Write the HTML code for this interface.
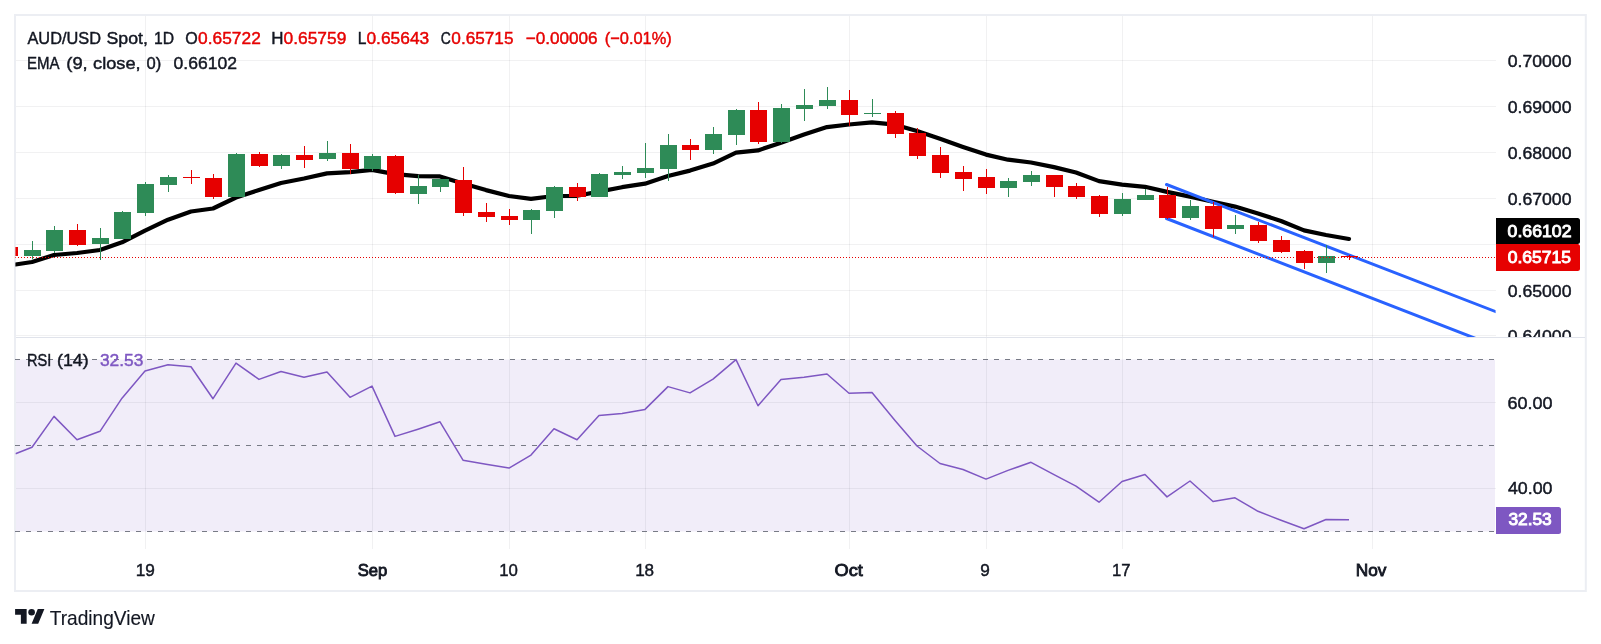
<!DOCTYPE html>
<html><head><meta charset="utf-8"><title>AUD/USD</title>
<style>html,body{margin:0;padding:0;background:#fff;}body{width:1601px;height:644px;overflow:hidden;}svg{display:block;}text{font-family:"Liberation Sans",sans-serif;}</style></head><body>
<svg width="1601" height="644" viewBox="0 0 1601 644">
<rect x="0" y="0" width="1601" height="644" fill="#fff"/>
<defs><clipPath id="cm"><rect x="15.4" y="16" width="1480.2" height="321"/></clipPath><clipPath id="cr"><rect x="15.4" y="338" width="1480.2" height="211"/></clipPath><clipPath id="ca"><rect x="1496" y="16" width="89" height="321"/></clipPath></defs>
<rect x="15" y="15" width="1570.8" height="576" fill="none" stroke="#eceef3" stroke-width="2"/>
<rect x="16" y="359.5" width="1479" height="172" fill="#f1edf9"/>
<rect x="145.0" y="16" width="1" height="533" fill="#131722" fill-opacity="0.06"/>
<rect x="372.0" y="16" width="1" height="533" fill="#131722" fill-opacity="0.06"/>
<rect x="509.0" y="16" width="1" height="533" fill="#131722" fill-opacity="0.06"/>
<rect x="645.0" y="16" width="1" height="533" fill="#131722" fill-opacity="0.06"/>
<rect x="849.0" y="16" width="1" height="533" fill="#131722" fill-opacity="0.06"/>
<rect x="986.0" y="16" width="1" height="533" fill="#131722" fill-opacity="0.06"/>
<rect x="1122.0" y="16" width="1" height="533" fill="#131722" fill-opacity="0.06"/>
<rect x="1372.0" y="16" width="1" height="533" fill="#131722" fill-opacity="0.06"/>
<rect x="16" y="60" width="1480" height="1" fill="#131722" fill-opacity="0.06"/>
<rect x="16" y="106" width="1480" height="1" fill="#131722" fill-opacity="0.06"/>
<rect x="16" y="152" width="1480" height="1" fill="#131722" fill-opacity="0.06"/>
<rect x="16" y="198" width="1480" height="1" fill="#131722" fill-opacity="0.06"/>
<rect x="16" y="244" width="1480" height="1" fill="#131722" fill-opacity="0.06"/>
<rect x="16" y="290" width="1480" height="1" fill="#131722" fill-opacity="0.06"/>
<rect x="16" y="335" width="1480" height="1" fill="#131722" fill-opacity="0.06"/>
<rect x="16" y="402" width="1480" height="1" fill="#131722" fill-opacity="0.06"/>
<rect x="16" y="488" width="1480" height="1" fill="#131722" fill-opacity="0.06"/>
<rect x="16" y="337" width="1569" height="1" fill="#e0e3eb"/>
<line x1="15" y1="359.5" x2="1496" y2="359.5" stroke="#787b86" stroke-width="1" stroke-dasharray="5 6"/>
<line x1="15" y1="445.5" x2="1496" y2="445.5" stroke="#787b86" stroke-width="1" stroke-dasharray="5 6"/>
<line x1="15" y1="531.5" x2="1496" y2="531.5" stroke="#787b86" stroke-width="1" stroke-dasharray="5 6"/>
<g clip-path="url(#cr)"><polyline points="15.5,453.7 32.0,447.2 54.0,416.4 77.0,439.7 100.0,431.3 122.0,398.2 145.0,371.0 168.0,364.7 191.0,366.8 213.0,398.7 236.0,363.1 259.0,379.4 281.0,371.5 304.0,377.3 327.0,372.1 350.0,397.3 372.0,386.1 395.0,436.4 418.0,429.2 440.0,421.8 463.0,460.2 486.0,464.2 509.0,468.1 531.0,455.1 554.0,428.7 577.0,439.7 599.0,415.5 622.0,413.6 645.0,409.4 668.0,386.6 690.0,392.9 713.0,379.1 736.0,359.6 758.0,405.7 781.0,379.6 804.0,377.3 827.0,374.0 849.0,393.3 872.0,392.6 895.0,420.4 917.0,446.0 940.0,463.5 963.0,469.5 986.0,479.1 1008.0,470.4 1031.0,462.3 1054.0,474.6 1076.0,486.1 1099.0,502.2 1122.0,481.5 1145.0,474.5 1167.0,496.9 1190.0,481.0 1213.0,501.5 1235.0,497.8 1258.0,511.3 1281.0,520.2 1304.0,528.8 1326.0,519.5 1349.0,519.7" fill="none" stroke="#7e57c2" stroke-width="1.5" stroke-linejoin="round"/></g>
<g clip-path="url(#cm)">
<polyline points="15.5,264.5 32.0,262.0 54.0,255.0 77.0,253.0 100.0,250.0 122.0,242.3 145.0,230.6 168.0,219.7 191.0,211.5 213.0,208.5 236.0,197.5 259.0,190.0 281.0,183.0 304.0,178.5 327.0,173.4 350.0,172.2 372.0,169.9 395.0,174.1 418.0,176.2 440.0,176.4 463.0,183.4 486.0,190.1 509.0,196.0 531.0,198.8 554.0,196.0 577.0,195.8 599.0,191.6 622.0,187.2 645.0,183.7 668.0,176.0 690.0,170.6 713.0,163.6 736.0,152.7 758.0,150.4 781.0,142.7 804.0,134.5 827.0,127.1 849.0,124.5 872.0,122.4 895.0,124.7 917.0,131.0 940.0,138.7 963.0,146.9 986.0,154.6 1008.0,159.7 1031.0,162.5 1054.0,167.1 1076.0,172.5 1099.0,181.1 1122.0,184.6 1145.0,186.8 1167.0,191.9 1190.0,196.6 1213.0,201.7 1235.0,206.6 1258.0,213.4 1281.0,221.0 1304.0,230.4 1326.0,235.0 1349.0,239.0" fill="none" stroke="#000" stroke-width="4.2" stroke-linejoin="round" stroke-linecap="round"/>
<line x1="1166.5" y1="184.5" x2="1500" y2="313.3" stroke="#2962ff" stroke-width="3" stroke-linecap="round"/>
<line x1="1166.5" y1="218.5" x2="1500" y2="347.9" stroke="#2962ff" stroke-width="3" stroke-linecap="round"/>
<rect x="9" y="244" width="1" height="13" fill="#e60000"/><rect x="1" y="247" width="17" height="9" fill="#e60000"/>
<rect x="32" y="241" width="1" height="18" fill="#2e8b57"/><rect x="24" y="250" width="17" height="6" fill="#2e8b57"/>
<rect x="54" y="226" width="1" height="27" fill="#2e8b57"/><rect x="46" y="230" width="17" height="21" fill="#2e8b57"/>
<rect x="77" y="224" width="1" height="22" fill="#e60000"/><rect x="69" y="230" width="17" height="15" fill="#e60000"/>
<rect x="100" y="228" width="1" height="32" fill="#2e8b57"/><rect x="92" y="238" width="17" height="6" fill="#2e8b57"/>
<rect x="122" y="211" width="1" height="28" fill="#2e8b57"/><rect x="114" y="212" width="17" height="27" fill="#2e8b57"/>
<rect x="145" y="182" width="1" height="34" fill="#2e8b57"/><rect x="137" y="184" width="17" height="29" fill="#2e8b57"/>
<rect x="168" y="175" width="1" height="17" fill="#2e8b57"/><rect x="160" y="177" width="17" height="8" fill="#2e8b57"/>
<rect x="191" y="170" width="1" height="14" fill="#e60000"/><rect x="183" y="177" width="17" height="1" fill="#e60000"/>
<rect x="213" y="174" width="1" height="25" fill="#e60000"/><rect x="205" y="178" width="17" height="19" fill="#e60000"/>
<rect x="236" y="153" width="1" height="44" fill="#2e8b57"/><rect x="228" y="154" width="17" height="43" fill="#2e8b57"/>
<rect x="259" y="152" width="1" height="15" fill="#e60000"/><rect x="251" y="154" width="17" height="12" fill="#e60000"/>
<rect x="281" y="154" width="1" height="15" fill="#2e8b57"/><rect x="273" y="155" width="17" height="11" fill="#2e8b57"/>
<rect x="304" y="146" width="1" height="22" fill="#e60000"/><rect x="296" y="155" width="17" height="5" fill="#e60000"/>
<rect x="327" y="141" width="1" height="20" fill="#2e8b57"/><rect x="319" y="153" width="17" height="6" fill="#2e8b57"/>
<rect x="350" y="144" width="1" height="30" fill="#e60000"/><rect x="342" y="153" width="17" height="16" fill="#e60000"/>
<rect x="372" y="154" width="1" height="17" fill="#2e8b57"/><rect x="364" y="156" width="17" height="13" fill="#2e8b57"/>
<rect x="395" y="155" width="1" height="39" fill="#e60000"/><rect x="387" y="156" width="17" height="37" fill="#e60000"/>
<rect x="418" y="175" width="1" height="29" fill="#2e8b57"/><rect x="410" y="186" width="17" height="8" fill="#2e8b57"/>
<rect x="440" y="179" width="1" height="13" fill="#2e8b57"/><rect x="432" y="179" width="17" height="8" fill="#2e8b57"/>
<rect x="463" y="167" width="1" height="49" fill="#e60000"/><rect x="455" y="180" width="17" height="33" fill="#e60000"/>
<rect x="486" y="203" width="1" height="19" fill="#e60000"/><rect x="478" y="212" width="17" height="5" fill="#e60000"/>
<rect x="509" y="209" width="1" height="16" fill="#e60000"/><rect x="501" y="216" width="17" height="4" fill="#e60000"/>
<rect x="531" y="209" width="1" height="25" fill="#2e8b57"/><rect x="523" y="210" width="17" height="10" fill="#2e8b57"/>
<rect x="554" y="186" width="1" height="32" fill="#2e8b57"/><rect x="546" y="187" width="17" height="24" fill="#2e8b57"/>
<rect x="577" y="183" width="1" height="18" fill="#e60000"/><rect x="569" y="187" width="17" height="10" fill="#e60000"/>
<rect x="599" y="173" width="1" height="24" fill="#2e8b57"/><rect x="591" y="174" width="17" height="23" fill="#2e8b57"/>
<rect x="622" y="166" width="1" height="13" fill="#2e8b57"/><rect x="614" y="172" width="17" height="3" fill="#2e8b57"/>
<rect x="645" y="143" width="1" height="35" fill="#2e8b57"/><rect x="637" y="168" width="17" height="5" fill="#2e8b57"/>
<rect x="668" y="134" width="1" height="47" fill="#2e8b57"/><rect x="660" y="145" width="17" height="24" fill="#2e8b57"/>
<rect x="690" y="139" width="1" height="21" fill="#e60000"/><rect x="682" y="145" width="17" height="5" fill="#e60000"/>
<rect x="713" y="127" width="1" height="27" fill="#2e8b57"/><rect x="705" y="134" width="17" height="16" fill="#2e8b57"/>
<rect x="736" y="109" width="1" height="36" fill="#2e8b57"/><rect x="728" y="110" width="17" height="25" fill="#2e8b57"/>
<rect x="758" y="102" width="1" height="42" fill="#e60000"/><rect x="750" y="110" width="17" height="32" fill="#e60000"/>
<rect x="781" y="104" width="1" height="39" fill="#2e8b57"/><rect x="773" y="108" width="17" height="34" fill="#2e8b57"/>
<rect x="804" y="89" width="1" height="32" fill="#2e8b57"/><rect x="796" y="105" width="17" height="4" fill="#2e8b57"/>
<rect x="827" y="87" width="1" height="22" fill="#2e8b57"/><rect x="819" y="100" width="17" height="6" fill="#2e8b57"/>
<rect x="849" y="90" width="1" height="36" fill="#e60000"/><rect x="841" y="100" width="17" height="15" fill="#e60000"/>
<rect x="872" y="99" width="1" height="18" fill="#2e8b57"/><rect x="864" y="113" width="17" height="1" fill="#2e8b57"/>
<rect x="895" y="111" width="1" height="27" fill="#e60000"/><rect x="887" y="113" width="17" height="21" fill="#e60000"/>
<rect x="917" y="128" width="1" height="31" fill="#e60000"/><rect x="909" y="133" width="17" height="23" fill="#e60000"/>
<rect x="940" y="147" width="1" height="31" fill="#e60000"/><rect x="932" y="155" width="17" height="18" fill="#e60000"/>
<rect x="963" y="166" width="1" height="25" fill="#e60000"/><rect x="955" y="172" width="17" height="7" fill="#e60000"/>
<rect x="986" y="169" width="1" height="25" fill="#e60000"/><rect x="978" y="177" width="17" height="11" fill="#e60000"/>
<rect x="1008" y="178" width="1" height="19" fill="#2e8b57"/><rect x="1000" y="181" width="17" height="7" fill="#2e8b57"/>
<rect x="1031" y="171" width="1" height="15" fill="#2e8b57"/><rect x="1023" y="175" width="17" height="7" fill="#2e8b57"/>
<rect x="1054" y="175" width="1" height="22" fill="#e60000"/><rect x="1046" y="175" width="17" height="12" fill="#e60000"/>
<rect x="1076" y="183" width="1" height="16" fill="#e60000"/><rect x="1068" y="186" width="17" height="11" fill="#e60000"/>
<rect x="1099" y="195" width="1" height="22" fill="#e60000"/><rect x="1091" y="196" width="17" height="18" fill="#e60000"/>
<rect x="1122" y="193" width="1" height="23" fill="#2e8b57"/><rect x="1114" y="199" width="17" height="15" fill="#2e8b57"/>
<rect x="1145" y="189" width="1" height="11" fill="#2e8b57"/><rect x="1137" y="195" width="17" height="5" fill="#2e8b57"/>
<rect x="1167" y="187" width="1" height="32" fill="#e60000"/><rect x="1159" y="195" width="17" height="23" fill="#e60000"/>
<rect x="1190" y="200" width="1" height="20" fill="#2e8b57"/><rect x="1182" y="206" width="17" height="12" fill="#2e8b57"/>
<rect x="1213" y="202" width="1" height="35" fill="#e60000"/><rect x="1205" y="206" width="17" height="23" fill="#e60000"/>
<rect x="1235" y="215" width="1" height="19" fill="#2e8b57"/><rect x="1227" y="225" width="17" height="4" fill="#2e8b57"/>
<rect x="1258" y="222" width="1" height="21" fill="#e60000"/><rect x="1250" y="225" width="17" height="16" fill="#e60000"/>
<rect x="1281" y="236" width="1" height="17" fill="#e60000"/><rect x="1273" y="240" width="17" height="12" fill="#e60000"/>
<rect x="1304" y="250" width="1" height="19" fill="#e60000"/><rect x="1296" y="251" width="17" height="12" fill="#e60000"/>
<rect x="1326" y="245" width="1" height="28" fill="#2e8b57"/><rect x="1318" y="256" width="17" height="7" fill="#2e8b57"/>
<rect x="1349" y="255" width="1" height="5" fill="#e60000"/><rect x="1341" y="256" width="17" height="1" fill="#e60000"/>
<line x1="15" y1="257.5" x2="1496" y2="257.5" stroke="#e60000" stroke-width="1" stroke-dasharray="1 2"/>
</g>
<g style="opacity:0.999">
<text x="27.48" y="43.6" font-size="17.2" fill="#131722" font-weight="normal" stroke="#131722" stroke-width="0.45" textLength="73.48" lengthAdjust="spacingAndGlyphs">AUD/USD</text>
<text x="106.53" y="43.6" font-size="17.2" fill="#131722" font-weight="normal" stroke="#131722" stroke-width="0.45" textLength="41.34" lengthAdjust="spacingAndGlyphs">Spot,</text>
<text x="153.95" y="43.6" font-size="17.2" fill="#131722" font-weight="normal" stroke="#131722" stroke-width="0.45" textLength="20.09" lengthAdjust="spacingAndGlyphs">1D</text>
<text x="185.26" y="43.6" font-size="17.2" fill="#131722" font-weight="normal" stroke="#131722" stroke-width="0.45" textLength="12.48" lengthAdjust="spacingAndGlyphs">O</text>
<text x="198.13" y="43.6" font-size="17.2" fill="#e60000" font-weight="normal" stroke="#e60000" stroke-width="0.45" textLength="62.65" lengthAdjust="spacingAndGlyphs">0.65722</text>
<text x="271.23" y="43.6" font-size="17.2" fill="#131722" font-weight="normal" stroke="#131722" stroke-width="0.45" textLength="12.24" lengthAdjust="spacingAndGlyphs">H</text>
<text x="283.53" y="43.6" font-size="17.2" fill="#e60000" font-weight="normal" stroke="#e60000" stroke-width="0.45" textLength="62.87" lengthAdjust="spacingAndGlyphs">0.65759</text>
<text x="357.74" y="43.6" font-size="17.2" fill="#131722" font-weight="normal" stroke="#131722" stroke-width="0.45" textLength="8.66" lengthAdjust="spacingAndGlyphs">L</text>
<text x="366.43" y="43.6" font-size="17.2" fill="#e60000" font-weight="normal" stroke="#e60000" stroke-width="0.45" textLength="62.83" lengthAdjust="spacingAndGlyphs">0.65643</text>
<text x="440.83" y="43.6" font-size="17.2" fill="#131722" font-weight="normal" stroke="#131722" stroke-width="0.45" textLength="10.07" lengthAdjust="spacingAndGlyphs">C</text>
<text x="451.34" y="43.6" font-size="17.2" fill="#e60000" font-weight="normal" stroke="#e60000" stroke-width="0.45" textLength="62.17" lengthAdjust="spacingAndGlyphs">0.65715</text>
<text x="525.67" y="43.6" font-size="17.2" fill="#e60000" font-weight="normal" stroke="#e60000" stroke-width="0.45" textLength="71.96" lengthAdjust="spacingAndGlyphs">−0.00006</text>
<text x="604.80" y="43.6" font-size="17.2" fill="#e60000" font-weight="normal" stroke="#e60000" stroke-width="0.45" textLength="66.97" lengthAdjust="spacingAndGlyphs">(−0.01%)</text>
<text x="26.89" y="69.4" font-size="17.2" fill="#131722" font-weight="normal" stroke="#131722" stroke-width="0.45" textLength="32.52" lengthAdjust="spacingAndGlyphs">EMA</text>
<text x="66.28" y="69.4" font-size="17.2" fill="#131722" font-weight="normal" stroke="#131722" stroke-width="0.45" textLength="21.44" lengthAdjust="spacingAndGlyphs">(9,</text>
<text x="93.05" y="69.4" font-size="17.2" fill="#131722" font-weight="normal" stroke="#131722" stroke-width="0.45" textLength="47.56" lengthAdjust="spacingAndGlyphs">close,</text>
<text x="146.56" y="69.4" font-size="17.2" fill="#131722" font-weight="normal" stroke="#131722" stroke-width="0.45" textLength="14.73" lengthAdjust="spacingAndGlyphs">0)</text>
<text x="173.52" y="69.4" font-size="17.2" fill="#131722" font-weight="normal" stroke="#131722" stroke-width="0.45" textLength="63.42" lengthAdjust="spacingAndGlyphs">0.66102</text>
<text x="27.02" y="366.3" font-size="17.2" fill="#131722" font-weight="normal" stroke="#131722" stroke-width="0.45" textLength="24.29" lengthAdjust="spacingAndGlyphs">RSI</text>
<text x="57.12" y="366.3" font-size="17.2" fill="#131722" font-weight="normal" stroke="#131722" stroke-width="0.45" textLength="31.54" lengthAdjust="spacingAndGlyphs">(14)</text>
<text x="99.97" y="366.3" font-size="17.2" fill="#7e57c2" font-weight="normal" stroke="#7e57c2" stroke-width="0.45" textLength="43.44" lengthAdjust="spacingAndGlyphs">32.53</text>
<g clip-path="url(#ca)">
<text x="1507.72" y="66.5" font-size="17.2" fill="#131722" font-weight="normal" stroke="#131722" stroke-width="0.45" textLength="63.76" lengthAdjust="spacingAndGlyphs">0.70000</text>
<text x="1507.72" y="112.5" font-size="17.2" fill="#131722" font-weight="normal" stroke="#131722" stroke-width="0.45" textLength="63.76" lengthAdjust="spacingAndGlyphs">0.69000</text>
<text x="1507.72" y="158.5" font-size="17.2" fill="#131722" font-weight="normal" stroke="#131722" stroke-width="0.45" textLength="63.76" lengthAdjust="spacingAndGlyphs">0.68000</text>
<text x="1507.72" y="204.5" font-size="17.2" fill="#131722" font-weight="normal" stroke="#131722" stroke-width="0.45" textLength="63.76" lengthAdjust="spacingAndGlyphs">0.67000</text>
<text x="1507.72" y="296.5" font-size="17.2" fill="#131722" font-weight="normal" stroke="#131722" stroke-width="0.45" textLength="63.76" lengthAdjust="spacingAndGlyphs">0.65000</text>
<text x="1507.72" y="341.5" font-size="17.2" fill="#131722" font-weight="normal" stroke="#131722" stroke-width="0.45" textLength="63.76" lengthAdjust="spacingAndGlyphs">0.64000</text>
</g>
<path d="M1496 218h81.5a2.5 2.5 0 0 1 2.5 2.5v21a2.5 2.5 0 0 1 -2.5 2.5h-81.5z" fill="#000"/>
<path d="M1496 244h81.5a2.5 2.5 0 0 1 2.5 2.5v22a2.5 2.5 0 0 1 -2.5 2.5h-81.5z" fill="#e60000"/>
<text x="1507.64" y="237.1" font-size="16.4" fill="#fff" font-weight="normal" stroke="#fff" stroke-width="0.9" textLength="63.83" lengthAdjust="spacingAndGlyphs">0.66102</text>
<text x="1507.65" y="263.2" font-size="16.4" fill="#fff" font-weight="normal" stroke="#fff" stroke-width="0.9" textLength="63.34" lengthAdjust="spacingAndGlyphs">0.65715</text>
<text x="1507.43" y="408.5" font-size="17.2" fill="#131722" font-weight="normal" stroke="#131722" stroke-width="0.45" textLength="45.02" lengthAdjust="spacingAndGlyphs">60.00</text>
<text x="1507.92" y="493.8" font-size="17.2" fill="#131722" font-weight="normal" stroke="#131722" stroke-width="0.45" textLength="44.52" lengthAdjust="spacingAndGlyphs">40.00</text>
<path d="M1496 507h62.5a2.5 2.5 0 0 1 2.5 2.5v22a2.5 2.5 0 0 1 -2.5 2.5h-62.5z" fill="#7e57c2"/>
<text x="1508.40" y="525.4" font-size="16.4" fill="#fff" font-weight="normal" stroke="#fff" stroke-width="0.9" textLength="43.39" lengthAdjust="spacingAndGlyphs">32.53</text>
<text x="135.68" y="576.4" font-size="17.2" fill="#131722" font-weight="normal" stroke="#131722" stroke-width="0.45" textLength="19.16" lengthAdjust="spacingAndGlyphs">19</text>
<text x="357.68" y="576.4" font-size="16.5" fill="#131722" font-weight="normal" stroke="#131722" stroke-width="0.85" textLength="29.59" lengthAdjust="spacingAndGlyphs">Sep</text>
<text x="499.27" y="576.4" font-size="17.2" fill="#131722" font-weight="normal" stroke="#131722" stroke-width="0.45" textLength="18.68" lengthAdjust="spacingAndGlyphs">10</text>
<text x="635.14" y="576.4" font-size="17.2" fill="#131722" font-weight="normal" stroke="#131722" stroke-width="0.45" textLength="19.00" lengthAdjust="spacingAndGlyphs">18</text>
<text x="834.56" y="576.4" font-size="16.5" fill="#131722" font-weight="normal" stroke="#131722" stroke-width="0.85" textLength="28.26" lengthAdjust="spacingAndGlyphs">Oct</text>
<text x="980.21" y="576.4" font-size="17.2" fill="#131722" font-weight="normal" stroke="#131722" stroke-width="0.45" textLength="9.56" lengthAdjust="spacingAndGlyphs">9</text>
<text x="1112.07" y="576.4" font-size="17.2" fill="#131722" font-weight="normal" stroke="#131722" stroke-width="0.45" textLength="18.58" lengthAdjust="spacingAndGlyphs">17</text>
<text x="1355.70" y="576.4" font-size="16.5" fill="#131722" font-weight="normal" stroke="#131722" stroke-width="0.85" textLength="30.63" lengthAdjust="spacingAndGlyphs">Nov</text>
<g transform="translate(15.1,605.9) scale(0.825,0.806)" fill="#131722"><path d="M14 22H7V11H0V4h14v18zM28 22h-8l7.5-18h8L28 22z"/><circle cx="20" cy="8" r="4"/></g>
<text x="49.75" y="624.6" font-size="19.8" fill="#131722" font-weight="normal" stroke="#131722" stroke-width="0.15" textLength="105.04" lengthAdjust="spacingAndGlyphs">TradingView</text>
</g>
</svg></body></html>
